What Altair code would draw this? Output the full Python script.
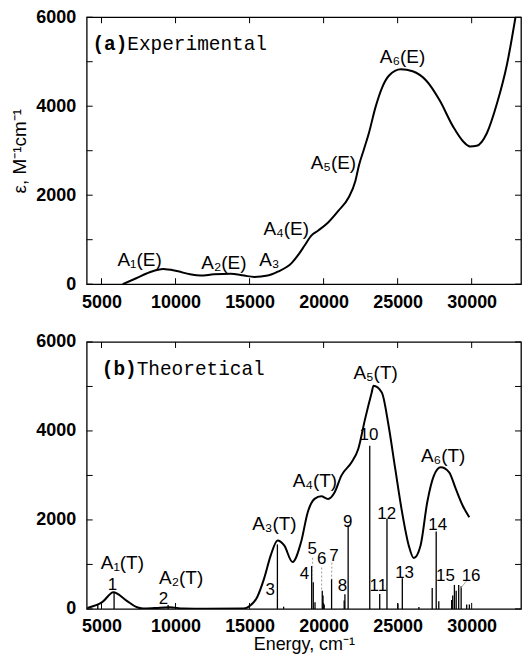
import altair as alt
import pandas as pd

# ---------------- data ----------------
# (a) experimental spectrum
exp_x = [6434, 7345, 8256, 9167, 10078, 10988, 11671, 12582, 13720, 14631, 15314, 16225,
         16908, 17819, 18274, 18730, 19185, 19641, 20324, 21007, 21690, 22146, 22373, 22715,
         23056, 23512, 23967, 24422, 25219, 26015, 26926, 27837, 28748, 29431, 29886, 30342,
         31025, 31708, 32391, 32960]
exp_y = [0, 133, 267, 341, 296, 222, 193, 222, 237, 193, 163, 193,
         281, 467, 652, 874, 1096, 1207, 1393, 1652, 1948, 2319, 2652, 3022,
         3393, 3985, 4430, 4689, 4830, 4785, 4578, 4133, 3541, 3207, 3096, 3111,
         3393, 4059, 4948, 6000]

# (b) theoretical spectrum
th_x = [4045, 5070, 5800, 6660, 7340, 7800, 8600, 9600, 10520, 12000, 14600, 15070, 15520,
        15980, 16430, 16890, 17340, 17900, 18480, 18930, 19390, 19840, 20300, 20750, 21200,
        21890, 22340, 22800, 23250, 23370, 23930, 24390, 24840, 25300, 25750, 26090, 26550,
        27000, 27450, 27910, 28480, 28930, 29390, 29840]
th_y = [20, 157, 375, 194, 45, 10, 20, 37, 10, 5, 10, 82, 269,
        680, 1203, 1540, 1427, 1054, 1502, 2174, 2473, 2533, 2473, 2623, 2996,
        3295, 3594, 4266, 4864, 5014, 4864, 4117, 3146, 2174, 1427, 1143, 1427,
        2398, 2996, 3183, 3071, 2697, 2324, 2062]

# transitions (sticks)
stick_x = [4750, 5850, 9500, 16880, 17300, 19195, 19303, 19420, 19910, 19960, 20040, 20540,
           21390, 21440, 21658, 23117, 23790, 24280, 25020, 25317, 26435, 27335, 27605,
           27780, 28650, 28720, 28835, 28955, 29125, 29290, 29665, 29845]
stick_h = [90, 370, 90, 1450, 50, 967, 600, 150, 410, 300, 100, 670,
           190, 330, 1880, 3669, 334, 2025, 120, 690, 45, 470, 1740,
           170, 200, 300, 540, 410, 540, 510, 100, 100]

# peak labels
lab_a_text = ["A\u2081(E)", "A\u2082(E)", "A\u2083", "A\u2084(E)", "A\u2085(E)", "A\u2086(E)"]
lab_a_x = [7573, 13265, 16339, 17478, 20665, 25333]
lab_a_y = [541, 467, 541, 1244, 2726, 5096]

lab_b_text = ["A\u2081(T)", "A\u2082(T)", "A\u2083(T)", "A\u2084(T)", "A\u2085(T)", "A\u2086(T)"]
lab_b_x = [6410, 10380, 16680, 19410, 23510, 28070]
lab_b_y = [1040, 700, 1913, 2884, 5312, 3445]

num_text = ["1", "2", "3", "4", "5", "6", "7", "8", "9", "10", "11", "12", "13", "14", "15", "16"]
num_x = [5740, 9190, 16390, 18700, 19230, 19870, 20700, 21280, 21620, 23060, 23700, 24260,
         25470, 27710, 28230, 29960]
num_y = [540, 230, 417, 787, 1340, 1115, 1190, 520, 1950, 3908, 520, 2137,
         814, 1893, 745, 745]

# leader lines (labels 5, 6, 7 dotted; 16 solid)
lead_x = [19260, 19870, 20560, 29665]
lead_y = [1150, 930, 1040, 632]
lead_x2 = [19260, 19870, 20540, 29170]
lead_y2 = [600, 409, 669, 430]
lead_dot = [True, True, True, False]

y_ticks = [0, 1000, 2000, 3000, 4000, 5000, 6000]
y_labels = [0, 2000, 4000, 6000]
x_ticks = [5000, 10000, 15000, 20000, 25000, 30000]

# ---------------- chart ----------------
W, H = 436, 268
XD = [4000, 33333]
YD = [0, 6000]
SANS = "Liberation Sans"
MONO = "Liberation Mono"
LAB = 18     # tick label size
ANN = 19     # peak label size
NUM = 17     # transition number size
TIT = 18     # axis title size
MONO_SIZE = 19.5

xscale = alt.Scale(domain=XD, nice=False, zero=False)
yscale = alt.Scale(domain=YD, nice=False)


def x_axis(title):
    kw = dict(values=x_ticks, format="d", labelFontSize=LAB, labelFont=SANS,
              labelFontWeight="bold", labelPadding=9, ticks=False, domain=False,
              grid=False, labelColor="black")
    if title:
        return alt.Axis(title=title, titleFontSize=TIT, titleFont=SANS,
                        titleFontWeight="normal", titlePadding=0, titleColor="black", **kw)
    return alt.Axis(title=None, **kw)


def y_axis(show_title):
    return alt.Axis(values=y_labels, format="d", labelFontSize=LAB, labelFont=SANS,
                    labelFontWeight="bold", labelPadding=11, ticks=False, domain=False,
                    grid=False, labelColor="black",
                    title="\u03b5, M\u207b\u00b9cm\u207b\u00b9", titleFontSize=19,
                    titleFont=SANS, titleFontWeight="normal", titlePadding=6,
                    titleColor="black", titleOpacity=1 if show_title else 0)


def frame_ticks(xa, ya):
    yt = pd.DataFrame({"y": y_ticks})
    xt = pd.DataFrame({"x": x_ticks})
    Y = alt.Y("y:Q", scale=yscale, axis=ya)
    X = alt.X("x:Q", scale=xscale, axis=xa)
    left = alt.Chart(yt).mark_rule(color="black", strokeWidth=1).encode(
        y=Y, x=alt.value(0), x2=alt.value(6))
    right = alt.Chart(yt).mark_rule(color="black", strokeWidth=1).encode(
        y=Y, x=alt.value(W - 6), x2=alt.value(W))
    bottom = alt.Chart(xt).mark_rule(color="black", strokeWidth=1).encode(
        x=X, y=alt.value(H), y2=alt.value(H - 6))
    top = alt.Chart(xt).mark_rule(color="black", strokeWidth=1).encode(
        x=X, y=alt.value(0), y2=alt.value(6))
    return [left, right, bottom, top]


def text_layer(df, size, font=SANS, weight="normal", dx=0, align="center"):
    return alt.Chart(df).mark_text(fontSize=size, font=font, fontWeight=weight,
                                   color="black", align=align, baseline="middle", dx=dx)


# ----- panel (a)
xa_a = x_axis(None)
ya_a = y_axis(True)
Xa = alt.X("x:Q", scale=xscale, axis=xa_a)
Ya = alt.Y("y:Q", scale=yscale, axis=ya_a)

curve_a = alt.Chart(pd.DataFrame({"x": exp_x, "y": exp_y})).mark_line(
    color="black", strokeWidth=2, interpolate="monotone", clip=True).encode(x=Xa, y=Ya)
labels_a = text_layer(pd.DataFrame({"x": lab_a_x, "y": lab_a_y, "t": lab_a_text}), ANN).encode(
    x=Xa, y=Ya, text="t:N")
title_df_a = pd.DataFrame({"x": [4385], "y": [5393], "p": ["(a)"], "t": ["Experimental"]})
ta1 = text_layer(title_df_a, MONO_SIZE, MONO, "bold", align="left").encode(x=Xa, y=Ya, text="p:N")
ta2 = text_layer(title_df_a, MONO_SIZE, MONO, "normal", dx=35, align="left").encode(
    x=Xa, y=Ya, text="t:N")

panel_a = alt.layer(curve_a, labels_a, ta1, ta2, *frame_ticks(xa_a, ya_a)).properties(
    width=W, height=H)

# ----- panel (b)
xa_b = x_axis("Energy, cm\u207b\u00b9")
ya_b = y_axis(False)
Xb = alt.X("x:Q", scale=xscale, axis=xa_b)
Yb = alt.Y("y:Q", scale=yscale, axis=ya_b)

sticks = alt.Chart(pd.DataFrame({"x": stick_x, "y0": [0] * len(stick_x), "y": stick_h})).mark_rule(
    color="black", strokeWidth=1.3).encode(x=Xb, y=alt.Y("y0:Q", scale=yscale, axis=ya_b), y2="y:Q")
leads = alt.Chart(pd.DataFrame({"x": lead_x, "y": lead_y, "x2": lead_x2, "y2": lead_y2,
                                "d": lead_dot})).mark_rule(color="#999999", strokeWidth=1).encode(
    x=Xb, y=Yb, x2="x2:Q", y2="y2:Q",
    strokeDash=alt.condition("datum.d", alt.value([2, 2]), alt.value([1, 0])))
curve_b = alt.Chart(pd.DataFrame({"x": th_x, "y": th_y})).mark_line(
    color="black", strokeWidth=2, interpolate="monotone", clip=True).encode(x=Xb, y=Yb)
labels_b = text_layer(pd.DataFrame({"x": lab_b_x, "y": lab_b_y, "t": lab_b_text}), ANN).encode(
    x=Xb, y=Yb, text="t:N")
nums = text_layer(pd.DataFrame({"x": num_x, "y": num_y, "t": num_text}), NUM).encode(
    x=Xb, y=Yb, text="t:N")
title_df_b = pd.DataFrame({"x": [5020], "y": [5387], "p": ["(b)"], "t": ["Theoretical"]})
tb1 = text_layer(title_df_b, MONO_SIZE, MONO, "bold", align="left").encode(x=Xb, y=Yb, text="p:N")
tb2 = text_layer(title_df_b, MONO_SIZE, MONO, "normal", dx=35, align="left").encode(
    x=Xb, y=Yb, text="t:N")

panel_b = alt.layer(sticks, leads, curve_b, labels_b, nums, tb1, tb2,
                    *frame_ticks(xa_b, ya_b)).properties(width=W, height=H)

chart = alt.vconcat(panel_a, panel_b, spacing=20).properties(
    padding={"left": 2, "top": -2, "right": 0, "bottom": 0},
    background="white",
).configure_view(stroke="black", strokeWidth=1.3)

chart.save("out.html", embed_options={"renderer": "svg", "actions": False})
